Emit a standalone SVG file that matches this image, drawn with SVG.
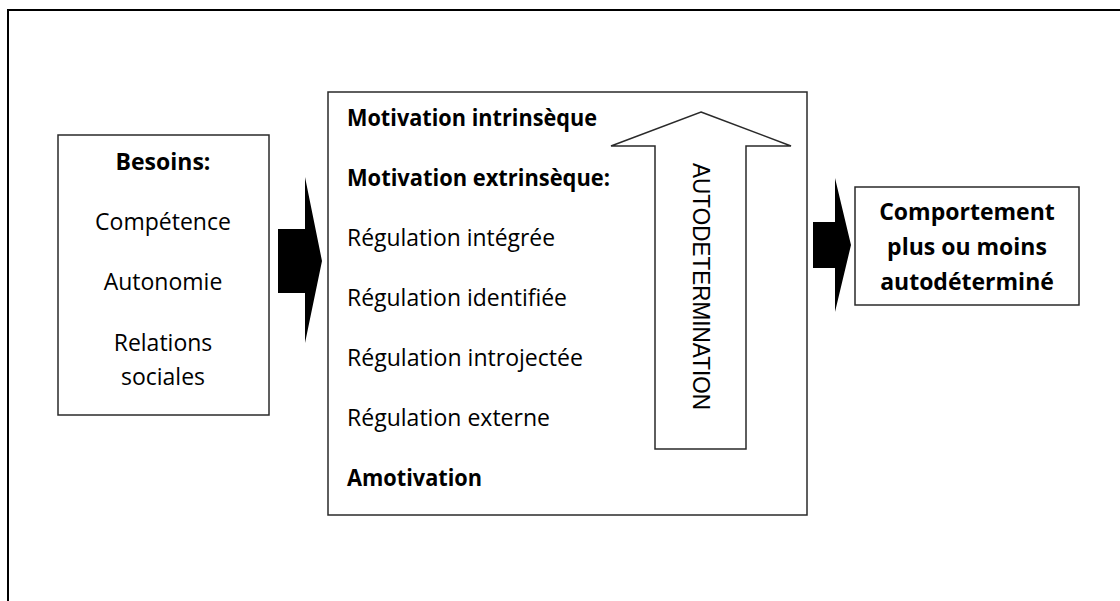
<svg xmlns="http://www.w3.org/2000/svg" width="1120" height="601" viewBox="0 0 1120 601">
<style>
.box{fill:#fff;stroke:#2a2a2a;stroke-width:1.5}
.t{font-family:"Open Sans","Liberation Sans",sans-serif;font-size:23px;fill:#000}
.b{font-weight:bold}
.c{text-anchor:middle}
.fat{fill:#000}
.up{fill:#fff;stroke:#2a2a2a;stroke-width:1.5;stroke-linejoin:miter}
.ax{font-family:"Liberation Sans",Arial,sans-serif;font-size:24px;fill:#000}
</style>
<rect width="1120" height="601" fill="#fff"/>
<path d="M8,601 V10 H1120" fill="none" stroke="#000" stroke-width="2"/>
<g id="besoins">
<rect class="box" x="58" y="135" width="211" height="280"/>
<text class="t b c" x="163" y="170">Besoins:</text>
<text class="t c" x="163" y="230">Compétence</text>
<text class="t c" x="163" y="290">Autonomie</text>
<text class="t c" x="163" y="351">Relations</text>
<text class="t c" x="163" y="385">sociales</text>
</g>
<g id="motivation">
<rect class="box" x="328" y="92" width="479" height="423"/>
<text class="t b" x="347" y="126" textLength="250" lengthAdjust="spacingAndGlyphs">Motivation intrinsèque</text>
<text class="t b" x="347" y="186" textLength="263" lengthAdjust="spacingAndGlyphs">Motivation extrinsèque:</text>
<text class="t" x="347" y="246" textLength="208" lengthAdjust="spacingAndGlyphs">Régulation intégrée</text>
<text class="t" x="347" y="306" textLength="220" lengthAdjust="spacingAndGlyphs">Régulation identifiée</text>
<text class="t" x="347" y="366" textLength="236" lengthAdjust="spacingAndGlyphs">Régulation introjectée</text>
<text class="t" x="347" y="426" textLength="203" lengthAdjust="spacingAndGlyphs">Régulation externe</text>
<text class="t b" x="347" y="486" textLength="135" lengthAdjust="spacingAndGlyphs">Amotivation</text>
</g>
<g id="autodetermination">
<polygon class="up" points="701,112 791,146 746,146 746,449 655,449 655,146 611,146"/>
<text class="ax" transform="translate(693,163) rotate(90)" textLength="247" lengthAdjust="spacingAndGlyphs">AUTODETERMINATION</text>
</g>
<g id="comportement">
<rect class="box" x="855" y="187" width="224" height="118"/>
<text class="t b c" x="967" y="220">Comportement</text>
<text class="t b c" x="967" y="255">plus ou moins</text>
<text class="t b c" x="967" y="290">autodéterminé</text>
</g>
<g id="connectors">
<polygon class="fat" points="278,229 305,229 305,177 322,261 305,343 305,293 278,293"/>
<polygon class="fat" points="813,222 835,222 835,178 851,245 835,312 835,268 813,268"/>
</g>
</svg>
